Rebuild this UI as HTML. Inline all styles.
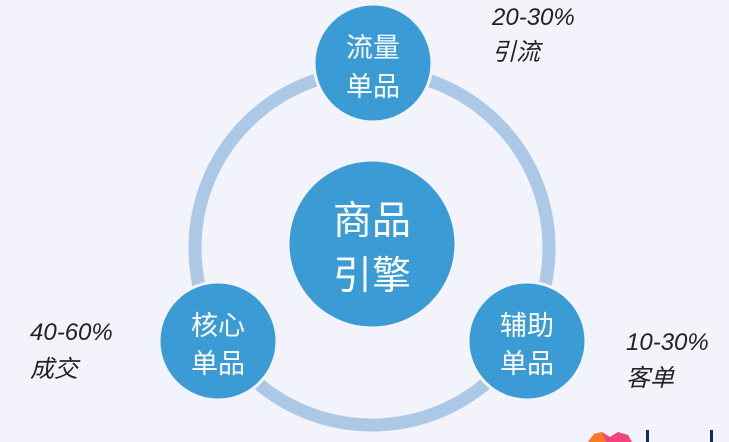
<!DOCTYPE html>
<html><head><meta charset="utf-8"><style>
html,body{margin:0;padding:0;background:#f3f3fb;}
svg{display:block}
text{font-family:"Liberation Sans","Noto Sans CJK SC",sans-serif;}
</style></head><body>
<svg width="729" height="442" viewBox="0 0 729 442" xmlns="http://www.w3.org/2000/svg">
<rect width="729" height="442" fill="#f3f3fb"/>
<circle cx="372" cy="248" r="177" fill="none" stroke="#abc9e6" stroke-width="13"/>
<g fill="#3a9bd5" stroke="#f3f3fb" stroke-width="3">
<circle cx="372" cy="244" r="84"/>
<circle cx="373" cy="63" r="59"/>
<circle cx="218" cy="341" r="59"/>
<circle cx="527" cy="341" r="59"/>
</g>
<g fill="#fff" text-anchor="middle" font-size="27">
<text x="373" y="57">流量</text><text x="373" y="96">单品</text>
<text x="218" y="335">核心</text><text x="218" y="373">单品</text>
<text x="527" y="335">辅助</text><text x="527" y="373">单品</text>
<text x="372" y="234" font-size="39">商品</text><text x="372" y="289" font-size="39">引擎</text>
</g>
<g fill="#222" font-size="24" font-style="italic">
<text x="492" y="25">20-30%</text><text x="492" y="60">引流</text>
<text x="30" y="340">40-60%</text><text x="30" y="377">成交</text>
<text x="626" y="350">10-30%</text><text x="626" y="386">客单</text>
</g>
<path d="M588 442 L594 434 L602 432 L610 437 L618 432 L628 435 L632 442 Z" fill="#f0447a"/>
<path d="M588 442 L594 434 L602 432 L606 442 Z" fill="#f57a2a"/>
<rect x="646" y="430" width="3" height="12" fill="#1a2a5a"/>
<rect x="710" y="430" width="3" height="12" fill="#1a2a5a"/>
</svg>
</body></html>
